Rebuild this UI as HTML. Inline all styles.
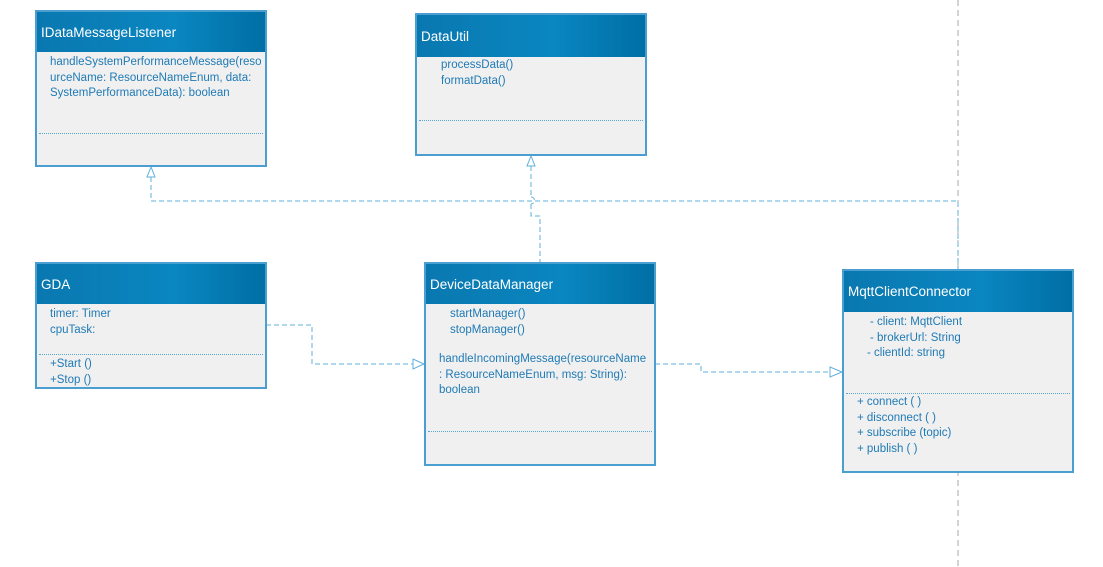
<!DOCTYPE html>
<html><head><meta charset="utf-8"><style>
body{margin:0;width:1103px;height:567px;background:#fff;position:relative;overflow:hidden;font-family:"Liberation Sans",sans-serif;}
.box{position:absolute;background:#f0f0f0;border:2px solid #4a9fd0;box-sizing:border-box;}
.hd{position:absolute;left:0;right:0;top:0;background:linear-gradient(90deg,#0a78b0,#0a86c0 60%,#006fa5);color:#fff;font-size:13.5px;padding-left:4px;box-sizing:border-box;display:flex;align-items:center;}
.t{position:absolute;color:#1f7ab5;font-size:11.5px;line-height:15.5px;white-space:nowrap;}
.sep{position:absolute;left:2px;right:2px;border-top:1px dotted #5aa7d4;}
svg{position:absolute;left:0;top:0;}
</style></head><body>
<svg width="1103" height="567">
<line x1="958" y1="0" x2="958" y2="567" stroke="#aaa" stroke-width="1" stroke-dasharray="6,4"/>
<g fill="none" stroke="#5fb0da" stroke-width="1" stroke-dasharray="5,3">
<polyline points="151,177 151,201 958,201 958,269"/>
<polyline points="531,166 531,197"/>
<path d="M531,197 a3,3 0 0 1 0,7"/>
<polyline points="531,204 531,216 540,216 540,262"/>
<polyline points="266,325 312,325 312,364 413,364"/>
<polyline points="655,364 701,364 701,372 830,372"/>
</g>
<g fill="#fff" stroke="#5fb0da" stroke-width="1">
<polygon points="151,167 147,177 155,177"/>
<polygon points="531,156 527,166 535,166"/>
<polygon points="424,364 413,359 413,369"/>
<polygon points="842,372 830,367 830,377"/>
</g>
</svg>

<div class="box" style="left:35px;top:10px;width:232px;height:157px">
<div class="hd" style="height:40px">IDataMessageListener</div>
<div class="t" style="left:13px;top:43px">handleSystemPerformanceMessage(reso<br>urceName: ResourceNameEnum, data:<br>SystemPerformanceData): boolean</div>
<div class="sep" style="top:121px"></div>
</div>

<div class="box" style="left:415px;top:13px;width:232px;height:143px">
<div class="hd" style="height:42px">DataUtil</div>
<div class="t" style="left:24px;top:43px">processData()<br>formatData()</div>
<div class="sep" style="top:105px"></div>
</div>

<div class="box" style="left:35px;top:262px;width:232px;height:127px">
<div class="hd" style="height:40px">GDA</div>
<div class="t" style="left:13px;top:43px">timer: Timer<br>cpuTask:</div>
<div class="sep" style="top:90px"></div>
<div class="t" style="left:13px;top:93px">+Start ()<br>+Stop ()</div>
</div>

<div class="box" style="left:424px;top:262px;width:232px;height:204px">
<div class="hd" style="height:40px">DeviceDataManager</div>
<div class="t" style="left:24px;top:43px">startManager()<br>stopManager()</div>
<div class="t" style="left:13px;top:88px">handleIncomingMessage(resourceName<br>: ResourceNameEnum, msg: String):<br>boolean</div>
<div class="sep" style="top:167px"></div>
</div>

<div class="box" style="left:842px;top:269px;width:232px;height:204px">
<div class="hd" style="height:41px">MqttClientConnector</div>
<div class="t" style="left:26px;top:44px">- client: MqttClient<br>- brokerUrl: String</div>
<div class="t" style="left:23px;top:75px">- clientId: string</div>
<div class="sep" style="top:122px"></div>
<div class="t" style="left:13px;top:124px">+ connect ( )<br>+ disconnect ( )<br>+ subscribe (topic)<br>+ publish ( )</div>
</div>
</body></html>
